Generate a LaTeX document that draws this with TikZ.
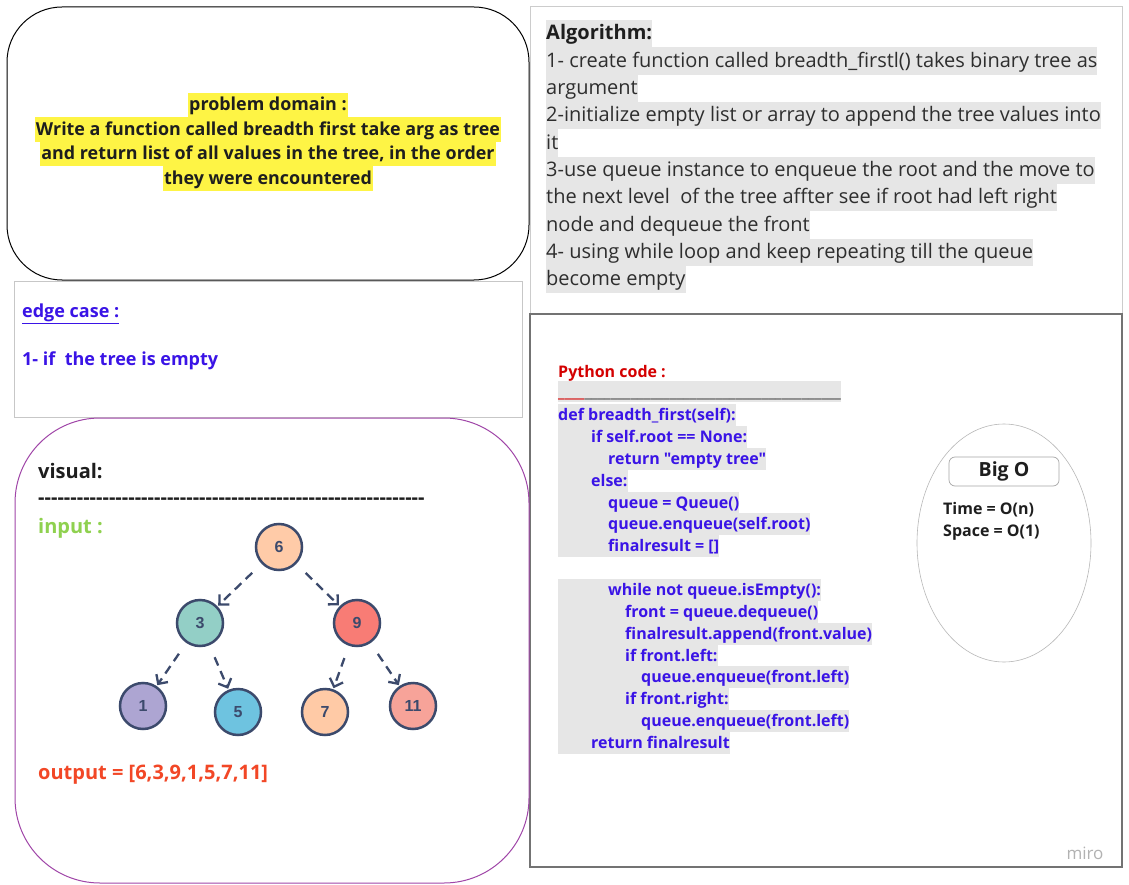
\documentclass[tikz,border=0pt]{standalone}
\usepackage{fontspec}
\setmainfont{Open Sans}
\newfontfamily\plainf{Open Sans}[Ligatures=TeXOff]
\newfontfamily\arialf{Liberation Sans}
\usetikzlibrary{arrows.meta,shapes.geometric}
\definecolor{hlgray}{HTML}{E6E6E6}
\definecolor{hlyellow}{HTML}{FEF445}
\definecolor{codeblue}{HTML}{3A14E6}
\definecolor{pyred}{HTML}{D40000}
\definecolor{ingreen}{HTML}{8FD14F}
\definecolor{outred}{HTML}{F24726}
\definecolor{txt}{HTML}{1E1E1E}
\definecolor{algtxt}{HTML}{2E2E2E}
\definecolor{treeline}{HTML}{3C4A6C}
\definecolor{visp}{HTML}{A046A8}
\definecolor{c6}{HTML}{FFCBA8}
\definecolor{c3}{HTML}{93CFC6}
\definecolor{c9}{HTML}{F87C75}
\definecolor{c1}{HTML}{ADA5D2}
\definecolor{c5}{HTML}{6EC3E0}
\definecolor{c7}{HTML}{FFCAA6}
\definecolor{c11}{HTML}{F7A399}
\newcommand\reph[2]{\foreach \i in {1,...,#1}{\hbox{#2}}}
\begin{document}
\begin{tikzpicture}[x=1pt,y=-1pt,
  box/.style={inner sep=0pt},
  algo/.style={anchor=base west, fill=hlgray, inner xsep=0pt, inner ysep=0pt, text height=19.8pt, text depth=7.5pt, font=\fontsize{20}{24}\selectfont, text=algtxt},
  prob/.style={anchor=base, fill=hlyellow, inner xsep=1pt, inner ysep=0pt, text height=18pt, text depth=6.5pt, font=\fontsize{17.9}{22}\selectfont\bfseries, text=txt},
  code/.style={anchor=base west, fill=hlgray, inner xsep=0pt, inner ysep=0pt, text height=16.5pt, text depth=5.4pt, font=\plainf\fontsize{16}{19}\selectfont\bfseries, text=codeblue},
  tnode/.style={circle, draw=treeline, line width=2.5pt, minimum size=46pt, inner sep=0pt, font=\arialf\bfseries\fontsize{16}{19}\selectfont, text=treeline},
  tedge/.style={draw=treeline, line width=2.3pt, dash pattern=on 9pt off 6pt, -{Straight Barb[length=7pt,width=14pt]}, shorten <=13pt, shorten >=1pt},
  lbl/.style={anchor=base west, inner sep=0pt},
]
\useasboundingbox[fill=white] (0,0) rectangle (1129,885);

% boxes
\node[box, draw=black, line width=1pt, rounded corners=55pt, minimum width=522pt, minimum height=273pt] (pd) at (268,143.5) {};
\node[box, draw=black!20, line width=1pt, minimum width=592pt, minimum height=307pt] (alg) at (826,160.5) {};
\node[box, draw=black!55, line width=1.3pt, minimum width=592pt, minimum height=553pt] (codebox) at (826,590.5) {};
\node[box, draw=black!22, line width=1pt, minimum width=508pt, minimum height=136pt] (edge) at (268,349) {};
\node[box, draw=visp, line width=1pt, rounded corners=85pt, minimum width=514pt, minimum height=465pt] (vis) at (272,650.5) {};

% problem domain
\node[prob] (p1) at (268,111) {problem domain :};
\node[prob] (p2) at (268,135.5) {Write a function called breadth first take arg as tree};
\node[prob] (p3) at (268,160) {and return list of all values in the tree, in the order};
\node[prob] (p4) at (268,184.5) {they were encountered};

% algorithm
\node[algo, font=\fontsize{20}{24}\selectfont\bfseries, text=txt] (a0) at (546,40) {Algorithm:};
\node[algo] (a1) at (546,67.3) {1- create function called breadth\_firstl() takes binary tree as};
\node[algo] (a2) at (546,94.6) {argument};
\node[algo] (a3) at (546,121.9) {2-initialize empty list or array to append the tree values into};
\node[algo] (a4) at (546,149.2) {it};
\node[algo] (a5) at (546,176.5) {3-use queue instance to enqueue the root and the move to};
\node[algo] (a6) at (546,203.8) {the next level\ \ of the tree affter see if root had left right};
\node[algo] (a7) at (546,231.1) {node and dequeue the front};
\node[algo] (a8) at (546,258.4) {4- using while loop and keep repeating till the queue};
\node[algo] (a9) at (546,285.7) {become empty\ };

% edge case
\node[lbl, text=codeblue, font=\fontsize{18}{22}\selectfont\bfseries] (e1) at (22,317.5) {\underline{edge case :}};
\node[lbl, text=codeblue, font=\fontsize{18}{22}\selectfont\bfseries] (e2) at (22,365.5) {1- if\ \ the tree is empty};

% visual
\node[lbl, text=txt, font=\fontsize{20}{24}\selectfont\bfseries] (v1) at (38,478) {visual:};
\node[lbl, text=txt, font=\plainf\fontsize{20}{24}\selectfont\bfseries] (v2) at (38,504) {\reph{60}{-}};
\node[lbl, text=ingreen, font=\fontsize{20}{24}\selectfont\bfseries] (v3) at (38,533) {input :};
\node[lbl, text=outred, font=\fontsize{20}{24}\selectfont\bfseries] (v4) at (38,779) {output = [6,3,9,1,5,7,11]};

% tree
\node[tnode, fill=c6] (n6) at (279,547) {6};
\node[tnode, fill=c3] (n3) at (200,623) {3};
\node[tnode, fill=c9] (n9) at (357,623) {9};
\node[tnode, fill=c1] (n1) at (143,706) {1};
\node[tnode, fill=c5] (n5) at (238,712) {5};
\node[tnode, fill=c7] (n7) at (325,712) {7};
\node[tnode, fill=c11] (n11) at (413,706) {11};
\draw[tedge] (n6) -- (n3);
\draw[tedge] (n6) -- (n9);
\draw[tedge] (n3) -- (n1);
\draw[tedge] (n3) -- (n5);
\draw[tedge] (n9) -- (n7);
\draw[tedge] (n9) -- (n11);

% python code
\node[lbl, text=pyred, font=\fontsize{16}{19}\selectfont\bfseries] (py) at (558,377) {Python code :};
\node[code, text=black!70] (ul) at (558,397) {{\color{pyred}\reph{4}{\_}}\reph{39}{\_}};
\node[code] (c1) at (558,420.5) {def breadth\_first(self):};
\node[code] (c2) at (558,442.4) {\hspace*{33pt}if self.root == None:};
\node[code] (c3) at (558,464.3) {\hspace*{50pt}return "empty tree"};
\node[code] (c4) at (558,486.1) {\hspace*{33pt}else:};
\node[code] (c5) at (558,508) {\hspace*{50pt}queue = Queue()};
\node[code] (c6) at (558,529.9) {\hspace*{50pt}queue.enqueue(self.root)};
\node[code] (c7) at (558,551.7) {\hspace*{50pt}finalresult = []};
\node[code] (c8) at (558,595.5) {\hspace*{50pt}while not queue.isEmpty():};
\node[code] (c9) at (558,617.3) {\hspace*{67pt}front = queue.dequeue()};
\node[code] (c10) at (558,639.2) {\hspace*{67pt}finalresult.append(front.value)};
\node[code] (c11) at (558,661.1) {\hspace*{67pt}if front.left:};
\node[code] (c12) at (558,682.9) {\hspace*{83pt}queue.enqueue(front.left)};
\node[code] (c13) at (558,704.8) {\hspace*{67pt}if front.right:};
\node[code] (c14) at (558,726.7) {\hspace*{83pt}queue.enqueue(front.left)};
\node[code] (c15) at (558,748.5) {\hspace*{33pt}return finalresult};

% big O
\node[ellipse, draw=black!28, line width=0.6pt, minimum width=174pt, minimum height=238pt, inner sep=0pt] (ell) at (1004,543) {};
\node[draw=black!35, line width=0.7pt, rounded corners=6pt, minimum width=110pt, minimum height=29pt, inner sep=0pt, text=txt, font=\fontsize{19.5}{22}\selectfont\bfseries] (bigo) at (1004,471.5) {Big O};
\node[lbl, text=txt, font=\fontsize{16}{19}\selectfont\bfseries] (t1) at (943,514.5) {Time = O(n)};
\node[lbl, text=txt, font=\fontsize{16}{19}\selectfont\bfseries] (t2) at (943,536.5) {Space = O(1)};
\node[text=black!30, font=\fontsize{17}{20}\selectfont] (miro) at (1085,853) {miro};
\end{tikzpicture}
\end{document}
